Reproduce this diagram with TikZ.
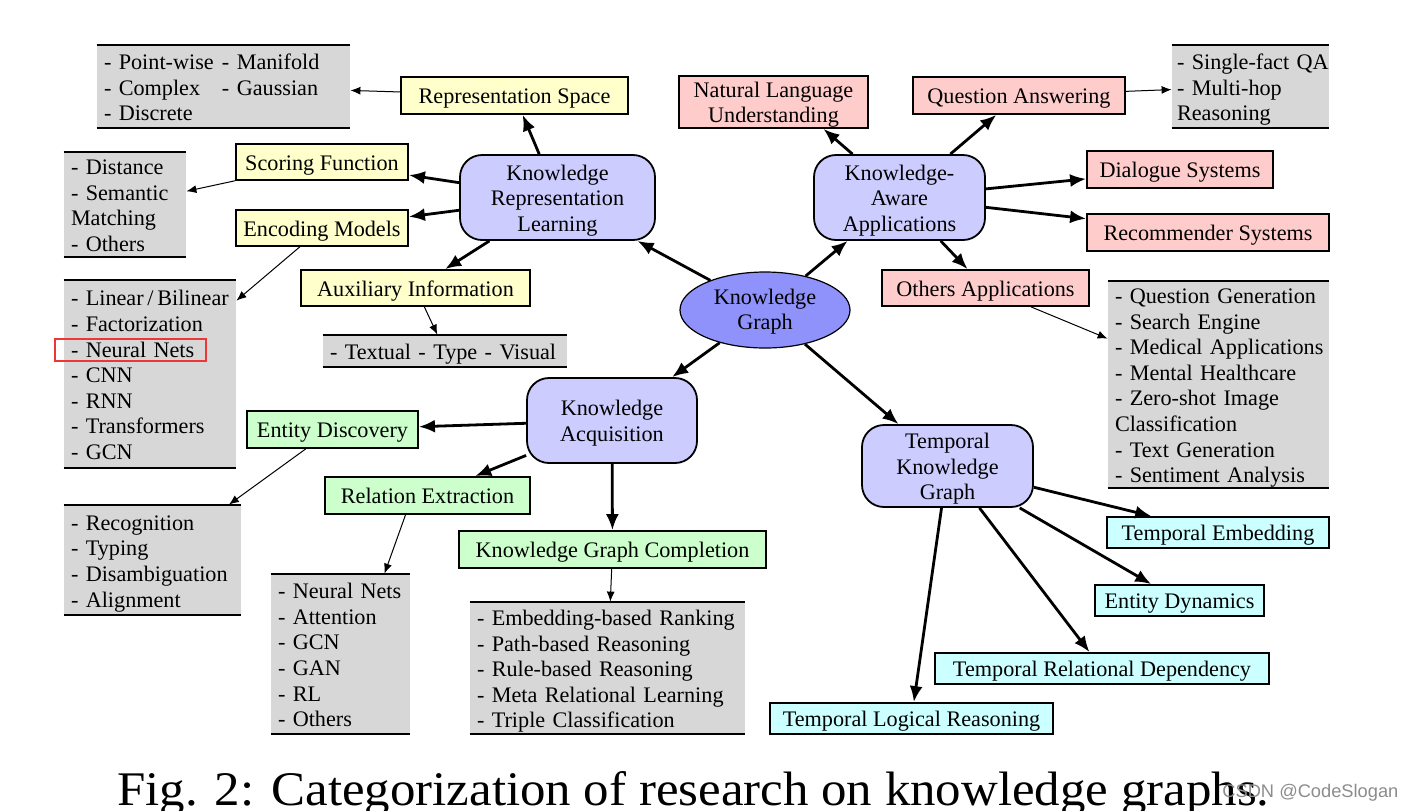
\documentclass[tikz,border=0pt]{standalone}
\usepackage{fontspec}
\setmainfont{Liberation Serif}
\setsansfont{Liberation Sans}
\usepackage{graphicx}
\usetikzlibrary{arrows.meta,shapes.geometric,calc}
\definecolor{lav}{RGB}{204,204,255}
\definecolor{kgblue}{RGB}{143,146,250}
\definecolor{yelc}{RGB}{255,255,204}
\definecolor{pinkc}{RGB}{255,204,204}
\definecolor{greenc}{RGB}{204,255,204}
\definecolor{cyanc}{RGB}{204,255,255}
\definecolor{grayc}{RGB}{215,215,215}
\definecolor{hlred}{RGB}{235,55,55}
\newcommand{\itemsblock}[1]{\noindent\raisebox{-1.75pt}[\height][\depth]{\begin{tabular}{@{}l@{}}#1\end{tabular}}}
\newcommand{\bx}[1]{\raisebox{-1.5pt}[\height][\depth]{\begin{tabular}{@{}c@{}}#1\end{tabular}}}
\tikzset{
  boxbase/.style={draw=black, line width=0.9pt, inner sep=0pt, align=center,
    font=\fontsize{11.1}{12.8}\selectfont},
  yel/.style={boxbase, fill=yelc},
  pnk/.style={boxbase, fill=pinkc},
  grn/.style={boxbase, fill=greenc},
  cyn/.style={boxbase, fill=cyanc},
  hub/.style={boxbase, fill=lav, rounded corners=11pt, minimum height=42.5pt},
  lst/.style={fill=grayc, inner xsep=3.5pt, inner ysep=0pt, align=left,
    font=\fontsize{11.1}{12.8}\selectfont},
  rulel/.style={line width=1pt},
  bigarrow/.style={line width=1.4pt, -{Latex[length=8pt,width=6.5pt]}},
  smallarrow/.style={line width=0.5pt, -{Latex[length=5pt,width=4pt]}},
}
\begin{document}
\begin{tikzpicture}[x=0.5pt,y=-0.5pt]
\useasboundingbox (0,0) rectangle (1413,810);

% central
\node[ellipse, draw=black, line width=0.6pt, fill=kgblue, minimum width=85pt, minimum height=38pt,
  inner sep=0pt, align=center, font=\fontsize{11.1}{12.8}\selectfont] (kg) at (765,310)
  {\raisebox{-1pt}[\height][\depth]{\begin{tabular}{@{}c@{}}Knowledge\\Graph\end{tabular}}};

% hubs
\node[hub, minimum width=97.5pt] (krl) at (557.5,197.5) {\bx{Knowledge\\Representation\\Learning}};
\node[hub, minimum width=85.5pt] (kaa) at (899.5,197.5) {\bx{Knowledge-\\Aware\\Applications}};
\node[hub, minimum width=85pt] (ka) at (612,420.5) {\bx{Knowledge\\Acquisition}};
\node[hub, minimum width=85.5pt, minimum height=41pt] (tkg) at (947.5,466) {\bx{Temporal\\Knowledge\\Graph}};

% yellow
\node[yel, minimum width=113.5pt, minimum height=18.5pt] (rs) at (514.5,95.5) {\bx{Representation Space}};
\node[yel, minimum width=86pt, minimum height=18pt] (sf) at (322,162) {\bx{Scoring Function}};
\node[yel, minimum width=86pt, minimum height=18pt] (em) at (322,228) {\bx{Encoding Models}};
\node[yel, minimum width=114.5pt, minimum height=18pt] (ai) at (415.5,288) {\bx{Auxiliary Information}};

% pink
\node[pnk, minimum width=94.5pt, minimum height=26pt] (nlu) at (773.5,102) {\bx{Natural Language\\Understanding}};
\node[pnk, minimum width=106pt, minimum height=18.5pt] (qa) at (1019,95.5) {\bx{Question Answering}};
\node[pnk, minimum width=93pt, minimum height=18.5pt] (ds) at (1180,169.5) {\bx{Dialogue Systems}};
\node[pnk, minimum width=121pt, minimum height=18.5pt] (rec) at (1208,232.5) {\bx{Recommender Systems}};
\node[pnk, minimum width=103.5pt, minimum height=18pt] (oa) at (985.5,288) {\bx{Others Applications}};

% green
\node[grn, minimum width=85.5pt, minimum height=18.5pt] (ed) at (332.5,429.5) {\bx{Entity Discovery}};
\node[grn, minimum width=102.5pt, minimum height=18.5pt] (re) at (427.5,495.5) {\bx{Relation Extraction}};
\node[grn, minimum width=153.5pt, minimum height=18.5pt] (kgc) at (612.5,549.5) {\bx{Knowledge Graph Completion}};

% cyan
\node[cyn, minimum width=111pt, minimum height=15.5pt] (te) at (1218,532.5) {\bx{Temporal Embedding}};
\node[cyn, minimum width=84.5pt, minimum height=15.5pt] (edyn) at (1179.5,600.5) {\bx{Entity Dynamics}};
\node[cyn, minimum width=167pt, minimum height=15.5pt] (trd) at (1102,668.5) {\bx{Temporal Relational Dependency}};
\node[cyn, minimum width=141.5pt, minimum height=15.5pt] (tlr) at (911.5,718.5) {\bx{Temporal Logical Reasoning}};

% lists
\node[lst, text width=119.5pt, minimum height=41.5pt] (rsl) at (223.5,86.5)
  {\itemsblock{\rlap{- Point-wise}\hspace{59pt}- Manifold\\\rlap{- Complex}\hspace{59pt}- Gaussian\\- Discrete}};
\node[lst, text width=54pt, minimum height=52.5pt] (sfl) at (125,204.5)
  {\itemsblock{- Distance\\- Semantic\\Matching\\- Others}};
\node[lst, text width=79pt, minimum height=94pt] (eml) at (150,374)
  {\itemsblock{- Linear\,/\,Bilinear\\- Factorization\\- Neural Nets\\- CNN\\- RNN\\- Transformers\\- GCN}};
\node[lst, text width=115pt, minimum height=16pt] (ail) at (445,351)
  {\itemsblock{- Textual - Type - Visual}};
\node[lst, inner xsep=2.5pt, text width=73.5pt, minimum height=41.5pt] (qal) at (1250.5,86.5)
  {\itemsblock{- Single-fact QA\\- Multi-hop\\Reasoning}};
\node[lst, text width=103.5pt, minimum height=103.5pt] (oal) at (1218.5,384.5)
  {\itemsblock{- Question Generation\\- Search Engine\\- Medical Applications\\- Mental Healthcare\\- Zero-shot Image\\Classification\\- Text Generation\\- Sentiment Analysis}};
\node[lst, text width=81.5pt, minimum height=55pt] (edl) at (152.5,560)
  {\itemsblock{- Recognition\\- Typing\\- Disambiguation\\- Alignment}};
\node[lst, text width=62.5pt, minimum height=80pt] (rel) at (340.5,654)
  {\itemsblock{- Neural Nets\\- Attention\\- GCN\\- GAN\\- RL\\- Others}};
\node[lst, text width=130.5pt, minimum height=66pt] (kgcl) at (607.5,668)
  {\itemsblock{- Embedding-based Ranking\\- Path-based Reasoning\\- Rule-based Reasoning\\- Meta Relational Learning\\- Triple Classification}};

\foreach \n in {rsl,sfl,eml,ail,qal,oal,edl,rel,kgcl}{
  \draw[rulel] (\n.north west) -- (\n.north east);
  \draw[rulel] (\n.south west) -- (\n.south east);
}

% highlight
\node[draw=hlred, line width=1pt, minimum width=75.5pt, minimum height=11pt, inner sep=0pt] (hl) at (130.5,350) {};

% thick arrows
\draw[bigarrow] (kg) -- (krl);
\draw[bigarrow] (kg) -- (kaa);
\draw[bigarrow] (kg) -- (ka);
\draw[bigarrow] (kg) -- (tkg);
\draw[bigarrow] (krl) -- (rs);
\draw[bigarrow] (krl) -- (sf);
\draw[bigarrow] (krl) -- (em);
\draw[bigarrow] (krl) -- (ai);
\draw[bigarrow] ($(kaa.north)+(-47,0)$) -- ($(nlu.south)+(50,0)$);
\draw[bigarrow] (kaa) -- (qa);
\draw[bigarrow] (kaa) -- (ds);
\draw[bigarrow] (kaa) -- (rec);
\draw[bigarrow] (kaa) -- (oa);
\draw[bigarrow] (ka) -- (ed);
\draw[bigarrow] (ka) -- (re);
\draw[bigarrow] (ka) -- (kgc);
\draw[bigarrow] (tkg) -- (te);
\draw[bigarrow] (tkg) -- (edyn);
\draw[bigarrow] (tkg) -- (trd);
\draw[bigarrow] (tkg) -- (tlr);

% thin arrows
\draw[smallarrow] (rs) -- (rsl);
\draw[smallarrow] (sf) -- (sfl);
\draw[smallarrow] (em) -- (eml);
\draw[smallarrow] (ai) -- (ail);
\draw[smallarrow] (qa) -- (qal);
\draw[smallarrow] (oa) -- (oal);
\draw[smallarrow] (ed) -- (edl);
\draw[smallarrow] ($(re.south)+(-22,0)$) -- ($(rel.north)+(44,0)$);
\draw[smallarrow] (kgc) -- (kgcl);

% caption and watermark
\node[anchor=base west, inner sep=0pt] (cap) at (117,805)
  {\resizebox{576pt}{17pt}{Fig. 2: Categorization of research on knowledge graphs.}};
\node[anchor=base west, inner sep=0pt, text=black!45] (wm) at (1222,797)
  {\resizebox{88pt}{!}{\sffamily CSDN @CodeSlogan}};
\end{tikzpicture}
\end{document}
